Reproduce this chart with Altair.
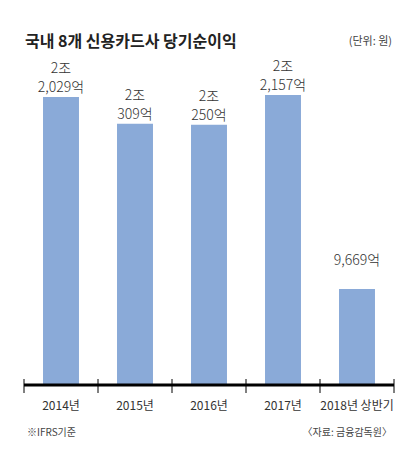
import altair as alt
import pandas as pd

CATEGORIES = ["2014년", "2015년", "2016년", "2017년", "2018년 상반기"]
NET_INCOME_EOK = [22029, 20309, 20250, 22157, 9669]  # 억 원
TITLE = "국내 8개 신용카드사 당기순이익"
UNIT_NOTE = "(단위: 원)"
BASIS_NOTE = "※IFRS기준"
SOURCE_NOTE = "〈자료: 금융감독원〉"


def fmt(v):
    jo, eok = divmod(v, 10000)
    return f"{jo}조\n{eok:,}억" if jo else f"{eok:,}억"


df = pd.DataFrame({
    "period": CATEGORIES,
    "value": NET_INCOME_EOK,
    "label": [fmt(v) for v in NET_INCOME_EOK],
})

FONT = "Noto Sans CJK KR"
W, H = 370, 325
STEP = W / len(CATEGORIES)
Y_DOMAIN = [3489, 24411]

yscale = alt.Scale(domain=Y_DOMAIN, zero=False, nice=False)
xscale = alt.Scale(paddingInner=0.514, paddingOuter=0.257)

x = alt.X("period:N", sort=CATEGORIES, scale=xscale,
          axis=alt.Axis(title=None, labelAngle=0, domain=False, ticks=False,
                        labelPadding=15, labelFont=FONT, labelFontSize=12,
                        labelColor="#333"))
y = alt.Y("value:Q", scale=yscale, axis=None)

base = alt.Chart(df)
bars = base.mark_bar(color="#8AAAD8").encode(x=x, y=y, y2=alt.datum(Y_DOMAIN[0]))
labels = base.mark_text(baseline="bottom", dy=-21, lineBreak="\n", lineHeight=19,
                        font=FONT, fontSize=14, fontWeight=300, color="#333").encode(
    x=alt.X("period:N", sort=CATEGORIES, scale=xscale),
    y=alt.Y("value:Q", scale=yscale, axis=None),
    text="label:N",
)

# category separator ticks: at the left boundary of every step, plus the right end
sep_left = base.mark_rule(color="#000", strokeWidth=1, xOffset=-STEP / 2,
                          yOffset=-6, y2Offset=8).encode(
    x=alt.X("period:N", sort=CATEGORIES, scale=xscale),
    y=alt.datum(Y_DOMAIN[0]), y2=alt.datum(Y_DOMAIN[0]))
sep_right = alt.Chart(df.tail(1)).mark_rule(color="#000", strokeWidth=1, xOffset=STEP / 2,
                                            yOffset=-6, y2Offset=8).encode(
    x=alt.X("period:N", sort=CATEGORIES, scale=xscale),
    y=alt.datum(Y_DOMAIN[0]), y2=alt.datum(Y_DOMAIN[0]))

one = pd.DataFrame({"k": [0]})
axis_line = alt.Chart(one).mark_rule(color="#000", strokeWidth=3).encode(
    y=alt.datum(Y_DOMAIN[0]), x=alt.value(0), x2=alt.value(W))

title = alt.Chart(pd.DataFrame({"t": [TITLE]})).mark_text(
    align="left", baseline="middle", font=FONT, fontSize=16, fontWeight="bold",
    color="#222").encode(x=alt.value(1), y=alt.value(-18), text="t:N")
unit = alt.Chart(pd.DataFrame({"t": [UNIT_NOTE]})).mark_text(
    align="right", baseline="middle", font=FONT, fontSize=11, color="#444").encode(
    x=alt.value(368), y=alt.value(-18), text="t:N")
basis = alt.Chart(pd.DataFrame({"t": [BASIS_NOTE]})).mark_text(
    align="left", baseline="middle", font=FONT, fontSize=10, color="#444").encode(
    x=alt.value(3), y=alt.value(373), text="t:N")
source = alt.Chart(pd.DataFrame({"t": [SOURCE_NOTE]})).mark_text(
    align="right", baseline="middle", font=FONT, fontSize=10, color="#444").encode(
    x=alt.value(368), y=alt.value(373), text="t:N")

chart = alt.layer(bars, labels, axis_line, sep_left, sep_right, title, unit, basis,
                  source).properties(
    width=W, height=H,
    autosize=alt.AutoSizeParams(type="none"),
    padding={"left": 16, "top": 52, "right": 15, "bottom": 60},
).configure_view(stroke=None)

chart.save("out.html", embed_options={"renderer": "svg", "actions": False})
